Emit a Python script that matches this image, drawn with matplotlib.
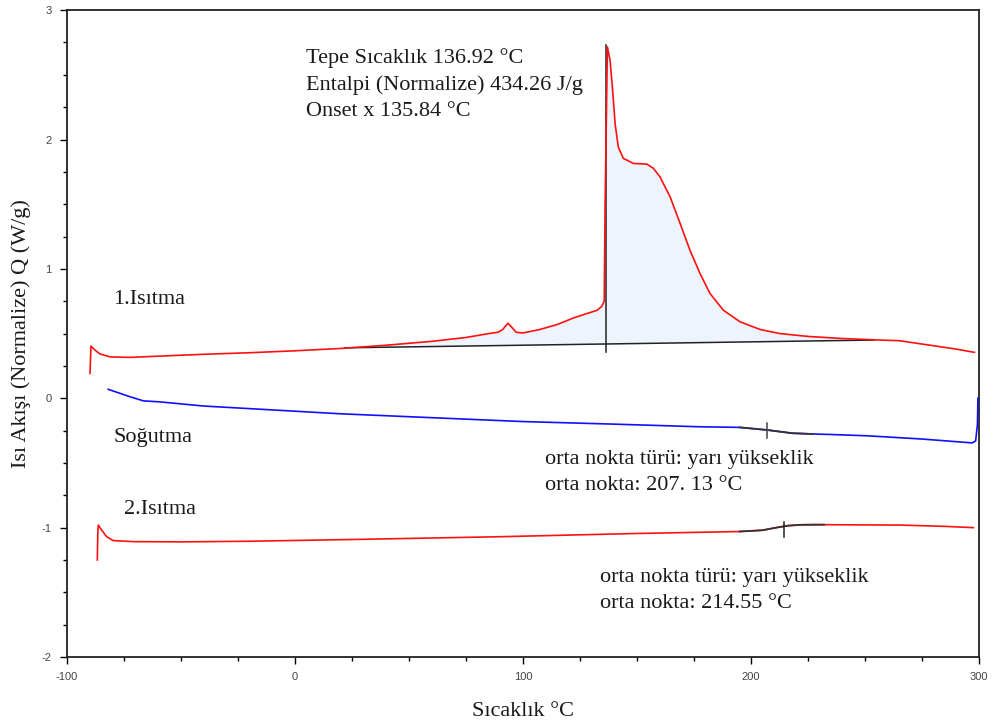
import numpy as np
import matplotlib
matplotlib.use("Agg")
import matplotlib.pyplot as plt
from matplotlib.ticker import MultipleLocator

plt.rcParams['axes.unicode_minus'] = False

# 1. heating curve (T in degC, Q in W/g)
heat1_T = [-89.9, -89.5, -87.7, -85.5, -81.1, -72.4, -59.2, -40, -20, 0, 20, 40, 60, 75,
           85, 89, 91, 93.4, 95, 97, 100, 107, 115, 122, 128, 132.5, 134.5, 135.6, 136.0,
           137.0, 138.2, 139.3, 140.4, 141.8, 144.0, 148.4, 154.3, 157.2, 160.1, 164.5,
           168.9, 173.2, 177.6, 182.0, 187.9, 195.2, 203.9, 212.7, 225, 240, 256.6, 265,
           278.5, 290, 298]
heat1_Q = [0.192, 0.403, 0.372, 0.342, 0.32, 0.316, 0.326, 0.34, 0.352, 0.367, 0.385,
           0.41, 0.44, 0.47, 0.50, 0.51, 0.53, 0.58, 0.55, 0.51, 0.505, 0.53, 0.57, 0.62,
           0.655, 0.68, 0.71, 0.75, 1.5, 2.716, 2.61, 2.38, 2.12, 1.94, 1.854, 1.815, 1.81,
           1.777, 1.71, 1.557, 1.351, 1.145, 0.965, 0.81, 0.68, 0.591, 0.532, 0.50, 0.478,
           0.462, 0.45, 0.445, 0.41, 0.38, 0.355]

# integration baseline of the melting peak
base_T = [22, 254]
base_Q = [0.39, 0.45]
peak_T = 136.2
peak_Q = [0.36, 2.73]

# cooling curve
cool_T = [-81.9, -72.4, -66.5, -59.2, -40, -15, 20, 60, 100, 140, 177, 195, 207, 218,
          227, 235, 251, 275, 297, 298.5, 299.3, 299.5]
cool_Q = [0.069, 0.012, -0.02, -0.028, -0.06, -0.085, -0.12, -0.15, -0.18, -0.20, -0.22,
          -0.225, -0.245, -0.27, -0.276, -0.28, -0.29, -0.315, -0.345, -0.33, -0.2, 0.0]
cool_mid = 207.13
cool_tick_Q = [-0.19, -0.31]
cool_seg = [193, 227]

# 2. heating curve
heat2_T = [-86.7, -86.5, -86.3, -84.8, -82.6, -79.7, -70.9, -50, -20, 30, 90, 150, 195,
           205, 211, 216, 222, 228, 232, 240, 265, 285, 297.5]
heat2_Q = [-1.25, -1.05, -0.98, -1.019, -1.07, -1.10, -1.108, -1.11, -1.105, -1.09,
           -1.07, -1.045, -1.03, -1.02, -1.0, -0.985, -0.978, -0.977, -0.977, -0.978,
           -0.98, -0.99, -1.0]
heat2_mid = 214.55
heat2_tick_Q = [-0.957, -1.073]
heat2_seg = [195, 232]

serif = ['Liberation Serif', 'DejaVu Serif']
txt_col = '#1a1a1a'
fs = 16
ls = 1.5

fig = plt.figure(figsize=(9.97, 7.24), dpi=100)
ax = fig.add_axes([0.0672, 0.0925, 0.9148, 0.8935])

h1T, h1Q = np.array(heat1_T), np.array(heat1_Q)
m = (h1T > base_T[0]) & (h1T < base_T[1])
poly_T = np.concatenate([[base_T[0]], h1T[m], [base_T[1], base_T[1], base_T[0]]])
poly_Q = np.concatenate([[np.interp(base_T[0], h1T, h1Q)], h1Q[m],
                         [np.interp(base_T[1], h1T, h1Q), base_Q[1], base_Q[0]]])
ax.fill(poly_T, poly_Q, color='#edf4fc', lw=0, zorder=1)

ax.plot(heat1_T, heat1_Q, color='#ff1010', lw=1.2, zorder=3)
ax.plot(base_T, base_Q, color='#222222', lw=1.1, zorder=2)
ax.plot([peak_T, peak_T], peak_Q, color='#222222', lw=1.1, zorder=2)

cT, cQ = np.array(cool_T), np.array(cool_Q)
ax.plot(cT, cQ, color='#1010ff', lw=1.2, zorder=3)
mc = (cT >= cool_seg[0]) & (cT <= cool_seg[1])
ax.plot(cT[mc], cQ[mc], color='#333333', lw=1.3, zorder=4)
ax.plot([cool_mid, cool_mid], cool_tick_Q, color='#444444', lw=1.1, zorder=4)

h2T, h2Q = np.array(heat2_T), np.array(heat2_Q)
ax.plot(h2T, h2Q, color='#ff1010', lw=1.2, zorder=3)
m2 = (h2T >= heat2_seg[0]) & (h2T <= heat2_seg[1])
ax.plot(h2T[m2], h2Q[m2], color='#333333', lw=1.3, zorder=4)
ax.plot([heat2_mid, heat2_mid], heat2_tick_Q, color='#222222', lw=1.1, zorder=4)

ax.set_xlim(-100, 300)
ax.set_ylim(-2, 3)
ax.xaxis.set_major_locator(MultipleLocator(100))
ax.xaxis.set_minor_locator(MultipleLocator(25))
ax.yaxis.set_major_locator(MultipleLocator(1))
ax.yaxis.set_minor_locator(MultipleLocator(0.25))
ax.tick_params(which='major', direction='out', length=5, width=1, labelsize=8,
               labelcolor='#444444', pad=6)
ax.tick_params(which='minor', direction='out', length=3, width=1)
for lab in ax.get_xticklabels() + ax.get_yticklabels():
    lab.set_family(['Liberation Sans', 'DejaVu Sans'])
for s in ax.spines.values():
    s.set_linewidth(1.3)
    s.set_color('#222222')

ax.set_xlabel('Sıcaklık °C', family=serif, fontsize=fs, color=txt_col, labelpad=14)
ax.set_ylabel('Isı Akışı (Normalize) Q (W/g)', family=serif, fontsize=fs,
              color=txt_col, labelpad=8)

ax.text(4.8, 2.71, 'Tepe Sıcaklık 136.92 °C\nEntalpi (Normalize) 434.26 J/g\nOnset x 135.84 °C',
        family=serif, fontsize=fs, color=txt_col, va='top', linespacing=ls)
ax.text(-79.8, 0.76, '1.Isıtma', family=serif, fontsize=fs, color=txt_col, va='center')
ax.text(-79.8, -0.30, 'Soğutma', family=serif, fontsize=fs, color=txt_col, va='center')
ax.text(-75, -0.86, '2.Isıtma', family=serif, fontsize=fs, color=txt_col, va='center')
ax.text(109.6, -0.40, 'orta nokta türü: yarı yükseklik\norta nokta: 207. 13 °C',
        family=serif, fontsize=fs, color=txt_col, va='top', linespacing=ls)
ax.text(133.8, -1.31, 'orta nokta türü: yarı yükseklik\norta nokta: 214.55 °C',
        family=serif, fontsize=fs, color=txt_col, va='top', linespacing=ls)

fig.savefig('out.png', dpi=100)
